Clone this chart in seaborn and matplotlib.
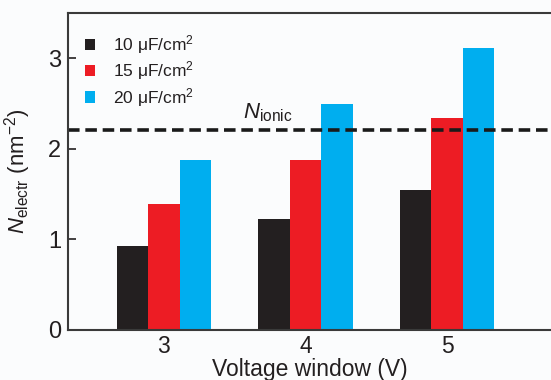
import matplotlib
matplotlib.use("Agg")
import matplotlib.pyplot as plt
import seaborn as sns
import pandas as pd

voltages = ["3", "4", "5"]
capacitances = ["10 μF/cm$^2$", "15 μF/cm$^2$", "20 μF/cm$^2$"]
vals_10 = [0.93, 1.23, 1.55]
vals_15 = [1.39, 1.875, 2.34]
vals_20 = [1.875, 2.49, 3.11]
n_ionic = 2.21
yticks = [0, 1, 2, 3]

colors = ["#231f20", "#ed1c24", "#00aeef"]

rows = []
for cap, vals in zip(capacitances, [vals_10, vals_15, vals_20]):
    for v, val in zip(voltages, vals):
        rows.append({"Voltage": v, "Cap": cap, "N": val})
df = pd.DataFrame(rows)

sns.set_theme(style="white")
plt.rcParams["font.family"] = ["Liberation Sans", "DejaVu Sans"]
plt.rcParams["mathtext.fontset"] = "custom"
plt.rcParams["mathtext.rm"] = "Liberation Sans"
plt.rcParams["mathtext.it"] = "Liberation Sans:italic"

fig = plt.figure(figsize=(5.51, 3.80), dpi=100, facecolor="#fbfcfd")
ax = fig.add_axes([68/551, 50/380, 1 - 68/551, (330-13)/380])
ax.set_facecolor("#fbfcfd")

sns.barplot(data=df, x="Voltage", y="N", hue="Cap", order=voltages,
            hue_order=capacitances, palette=colors, width=0.67,
            saturation=1, edgecolor="none", linewidth=0, ax=ax)

ax.axhline(n_ionic, color="#1a1a1a", lw=2.6, ls=(0, (3.2, 1.6)))
ax.text(1.0 - 0.44, n_ionic + 0.065, r"$\mathit{N}_{\mathrm{ionic}}$",
        fontsize=16, color="#231f20", ha="left", va="bottom")

ax.set_xlim(-0.678, 2.735)
ax.set_ylim(0, 3.5)
ax.set_yticks(yticks)
ax.tick_params(axis="y", direction="in", length=6, width=1.2,
               labelsize=17, colors="#231f20", pad=5, left=True)
ax.tick_params(axis="x", length=0, labelsize=16.5, colors="#231f20", pad=3.5)
ax.set_xlabel("Voltage window (V)", fontsize=16.5, color="#231f20")
ax.xaxis.set_label_coords(0.5, -0.087)
ax.set_ylabel(r"$\mathit{N}_{\mathrm{electr}}$ (nm$^{-2}$)", fontsize=16,
              color="#231f20")
ax.yaxis.set_label_coords(-0.072, 0.5)

for s in ["left", "top", "bottom"]:
    ax.spines[s].set_visible(True)
    ax.spines[s].set_color("#3a3a3a")
    ax.spines[s].set_linewidth(1.5)
ax.spines["right"].set_visible(False)

leg = ax.legend(loc="upper left", bbox_to_anchor=(0.01, 0.975), frameon=False,
                fontsize=12.5, handlelength=0.6, handleheight=0.6,
                handletextpad=1.0, labelspacing=0.2, borderaxespad=0.3)
for t in leg.get_texts():
    t.set_color("#231f20")

fig.savefig("out.png", dpi=100, facecolor=fig.get_facecolor())
